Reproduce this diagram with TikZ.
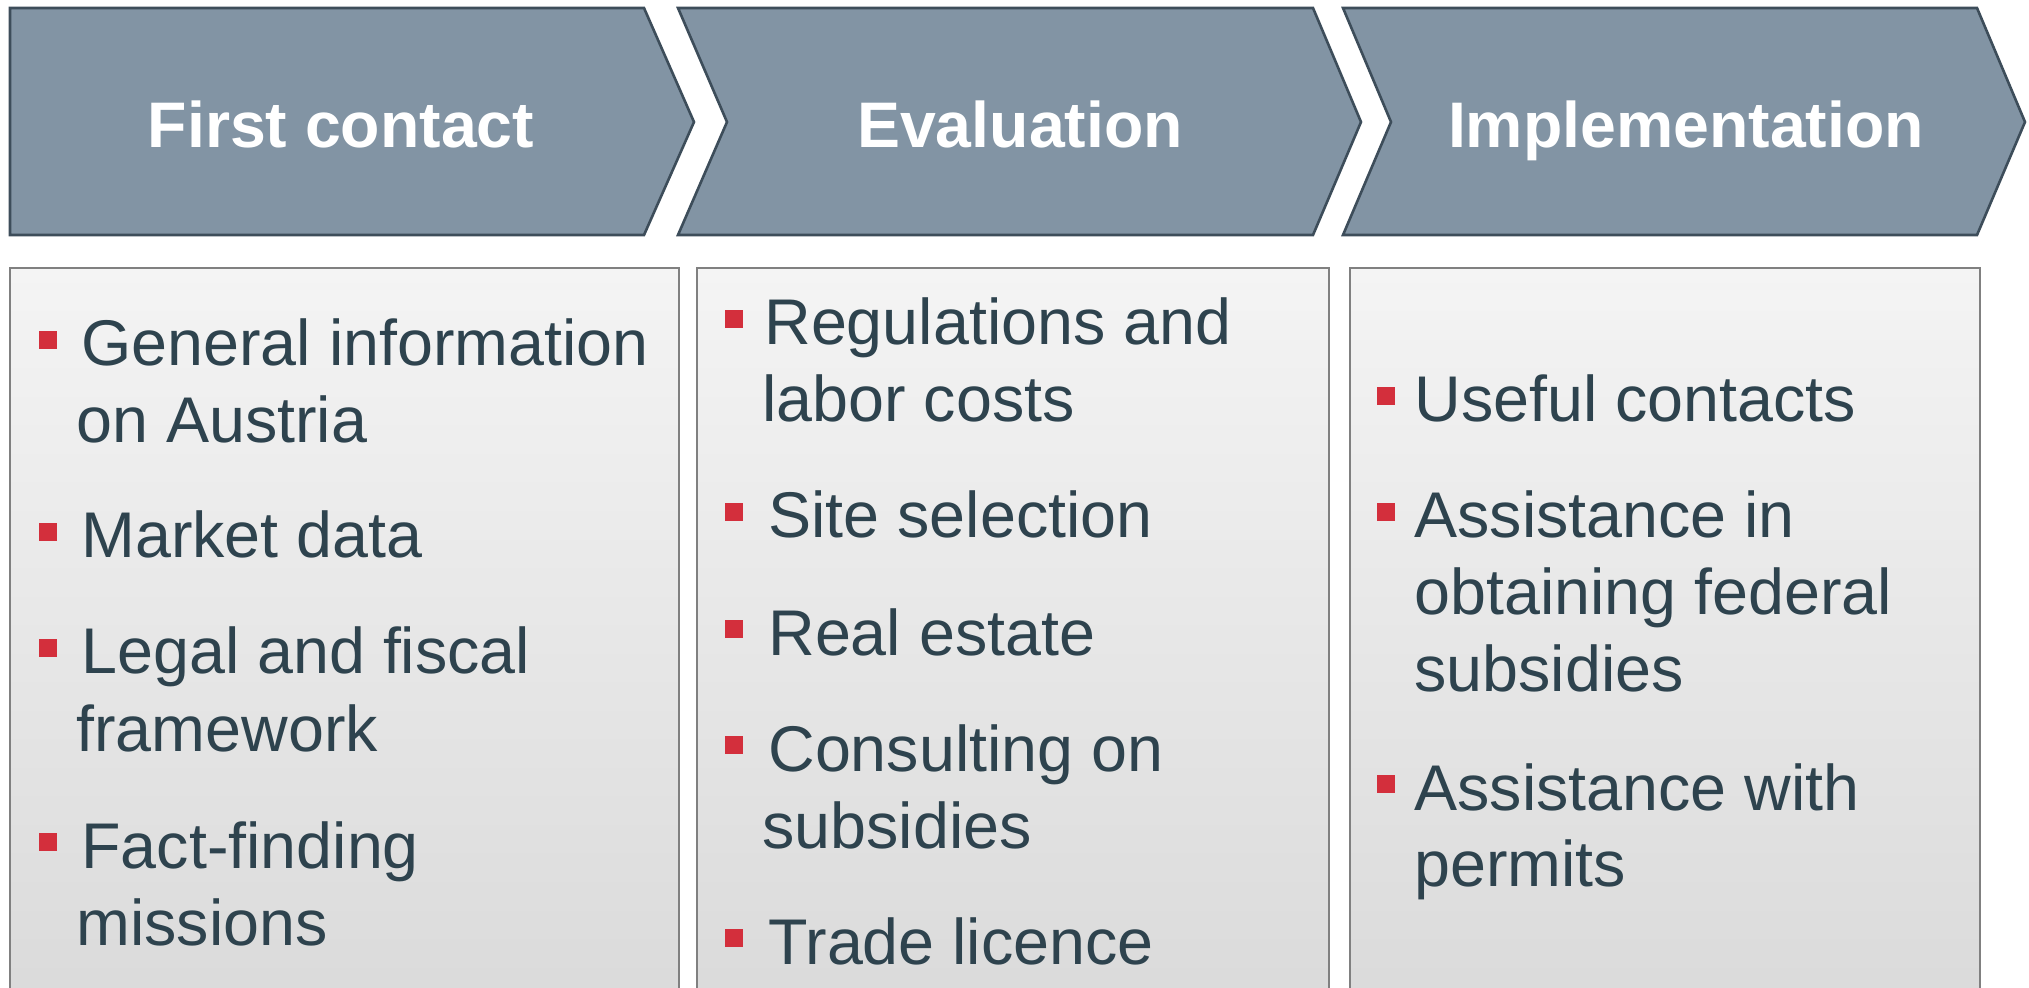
\documentclass[tikz,border=0pt]{standalone}
\usepackage{fontspec}
\setmainfont{Liberation Sans}
\definecolor{chevfill}{HTML}{8294A4}
\definecolor{chevdraw}{HTML}{3D4D5A}
\definecolor{boxdraw}{HTML}{808080}
\definecolor{textc}{HTML}{2E434E}
\definecolor{bulletc}{HTML}{D32F3C}
\definecolor{boxtop}{HTML}{F4F4F4}
\definecolor{boxbot}{HTML}{DADADA}
\tikzset{
  chev/.style={fill=chevfill, draw=chevdraw, line width=1.3pt, line join=miter},
  colbox/.style={draw=boxdraw, line width=1pt, top color=boxtop, bottom color=boxbot},
  head/.style={font=\bfseries\fontsize{32.2}{38}\selectfont, text=white, anchor=base, inner sep=0pt},
  txt/.style={font=\fontsize{32.3}{38}\selectfont, text=textc, anchor=base west, inner sep=0pt},
  bul/.style={rectangle, fill=bulletc, minimum size=9pt, inner sep=0pt}
}
\begin{document}
\begin{tikzpicture}[x=0.5pt,y=-0.5pt]
\useasboundingbox (0,0) rectangle (2029,988);
\clip (0,0) rectangle (2029,988);
% chevrons
\draw[chev] (10,8) -- (644,8) -- (694,122) -- (644,235) -- (10,235) -- cycle;
\draw[chev] (678,8) -- (1313,8) -- (1361,122) -- (1313,235) -- (678,235) -- (727,122) -- cycle;
\draw[chev] (1343,8) -- (1977,8) -- (2025,122) -- (1977,235) -- (1343,235) -- (1391,122) -- cycle;
\node[head] (h1) at (341,148) {First contact};
\node[head] (h2) at (1020,148) {Evaluation};
\node[head] (h3) at (1686,148) {Implementation};
% boxes
\draw[colbox] (10,268) rectangle (679,1010);
\draw[colbox] (697,268) rectangle (1329,1010);
\draw[colbox] (1350,268) rectangle (1980,1010);
% column 1
\node[bul] (b11) at (48,340) {};
\node[txt] (t11) at (81,366) {General information};
\node[txt] (t11b) at (76,443) {on Austria};
\node[bul] (b12) at (48,532) {};
\node[txt] (t12) at (81,558) {Market data};
\node[bul] (b13) at (48,648) {};
\node[txt] (t13) at (81,674) {Legal and fiscal};
\node[txt] (t13b) at (76,751) {framework};
\node[bul] (b14) at (48,842) {};
\node[txt] (t14) at (81,868) {Fact-finding};
\node[txt] (t14b) at (76,945) {missions};
% column 2
\node[bul] (b21) at (734,319) {};
\node[txt] (t21) at (764,345) {Regulations and};
\node[txt] (t21b) at (762,422) {labor costs};
\node[bul] (b22) at (734,512) {};
\node[txt] (t22) at (768,538) {Site selection};
\node[bul] (b23) at (734,629) {};
\node[txt] (t23) at (768,655) {Real estate};
\node[bul] (b24) at (734,745) {};
\node[txt] (t24) at (768,771) {Consulting on};
\node[txt] (t24b) at (762,848) {subsidies};
\node[bul] (b25) at (734,938) {};
\node[txt] (t25) at (768,964) {Trade licence};
% column 3
\node[bul] (b31) at (1386,396) {};
\node[txt] (t31) at (1414,422) {Useful contacts};
\node[bul] (b32) at (1386,512) {};
\node[txt] (t32) at (1414,538) {Assistance in};
\node[txt] (t32b) at (1414,615) {obtaining federal};
\node[txt] (t32c) at (1414,691) {subsidies};
\node[bul] (b33) at (1386,784) {};
\node[txt] (t33) at (1414,810) {Assistance with};
\node[txt] (t33b) at (1414,886) {permits};
\end{tikzpicture}
\end{document}
